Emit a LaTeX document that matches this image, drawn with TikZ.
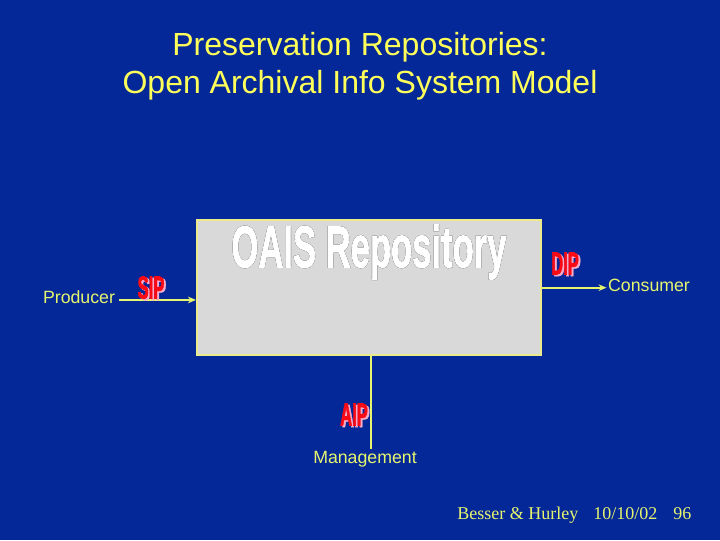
\documentclass[tikz,border=0pt]{standalone}
\usepackage{fontspec}
\setmainfont{Liberation Sans}
\newfontfamily\serifft{Liberation Serif}
\newfontfamily\heavyft[FakeBold=2.2]{Liberation Sans Bold}
\usepackage[outline]{contour}
\usetikzlibrary{arrows.meta}
\definecolor{bgblue}{RGB}{4,40,152}
\definecolor{titleyel}{RGB}{255,255,90}
\definecolor{labyel}{RGB}{230,245,110}
\definecolor{boxgray}{RGB}{217,217,217}
\definecolor{boxedge}{RGB}{235,235,140}
\definecolor{blobred}{RGB}{250,10,20}
\definecolor{blobpink}{RGB}{245,170,200}
\contourlength{0.7pt}
\newcommand{\blobtxt}[1]{\scalebox{0.52}[1]{\heavyft\fontsize{24}{24}\selectfont #1}}
\begin{document}
\begin{tikzpicture}[x=0.75pt,y=-0.75pt,
  lab/.style={text=labyel,font=\fontsize{13.3}{16}\selectfont,inner sep=0pt},
  arr/.style={draw=labyel,line width=1.3pt,-{Stealth[length=6pt,width=5pt]}},
  plainline/.style={draw=labyel,line width=1.3pt},
  blob/.style={inner sep=0pt}]
\fill[bgblue] (0,0) rectangle (720,540);
\useasboundingbox (0,0) rectangle (720,540);
% title
\node[text=titleyel,align=center,font=\fontsize{24}{28.5}\selectfont,inner sep=0pt] (title) at (360,66.5)
  {Preservation Repositories:\\Open Archival Info System Model};
% repository box
\node[draw=boxedge,fill=boxgray,line width=1.6pt,minimum width=258pt,minimum height=101pt,inner sep=0pt] (repo) at (369,287.5) {};
\node[inner sep=0pt] (oais) at (369,252) {\scalebox{0.59}[1]{\heavyft\fontsize{44}{44}\selectfont\contour{black}{\textcolor{white}{OAIS Repository}}}};
% labels
\node[lab] (producer) at (79,297) {Producer};
\node[lab] (consumer) at (649,285) {Consumer};
\node[lab] (mgmt) at (365,459) {Management};
\coordinate (mgmttop) at (371,449);
% connectors
\draw[arr] ([xshift=3pt,yshift=-2.2pt]producer.east) -- ([yshift=-2.2pt]producer.east -| repo.west);
\draw[arr] ([yshift=-2pt]consumer.west -| repo.east) -- ([yshift=-2pt,xshift=-1pt]consumer.west);
\draw[plainline] (repo.south -| mgmttop) -- (mgmttop);
% packages
\node[blob,text=blobpink] (sipsh) at (153,289) {\blobtxt{SIP}};
\node[blob,text=blobred] (sip) at (151,287.5) {\blobtxt{SIP}};
\node[blob,text=blobpink] (dipsh) at (567,265) {\blobtxt{DIP}};
\node[blob,text=blobred] (dip) at (565,263.5) {\blobtxt{DIP}};
\node[blob,text=blobpink] (aipsh) at (356,416) {\blobtxt{AIP}};
\node[blob,text=blobred] (aip) at (354,414.5) {\blobtxt{AIP}};
% footer
\node[text=labyel,font=\serifft\fontsize{13.5}{16}\selectfont,inner sep=0pt,anchor=base west] (foot1) at (457,519) {Besser \& Hurley};
\node[text=labyel,font=\serifft\fontsize{13.5}{16}\selectfont,inner sep=0pt,anchor=base west] (foot2) at (593,519) {10/10/02};
\node[text=labyel,font=\serifft\fontsize{13.5}{16}\selectfont,inner sep=0pt,anchor=base west] (foot3) at (673,519) {96};
\end{tikzpicture}
\end{document}
